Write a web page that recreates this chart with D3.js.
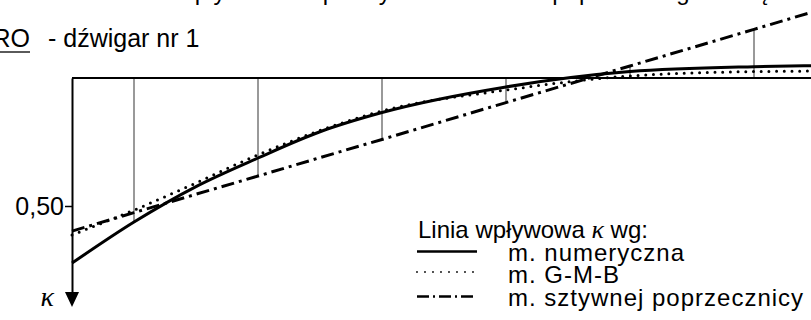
<!DOCTYPE html>
<html>
<head>
<meta charset="utf-8">
<script src="https://cdn.jsdelivr.net/npm/d3@7"></script>
<style>
  body { margin: 0; background: #fff; }
  svg { display: block; font-family: "Liberation Sans", Arial, sans-serif; }
  text { fill: #000; }
</style>
</head>
<body>
<div id="chart-area"></div>
<script>
// positions along the cross-section (girder spacing = 1)
const pos = [0, 0.5, 1, 1.5, 2, 2.5, 3.5, 4.5, 5.5, 6]
// influence line ordinates
const numeryczna = [0.723, 0.5625, 0.424, 0.3125, 0.21, 0.135, 0.035, -0.025, -0.044, -0.048]
const gmb        = [0.613, 0.516, 0.41, 0.30, 0.205, 0.129, 0.047, -0.008, -0.025, -0.027]
const sztywna    = [0.598, 0.526, 0.454, 0.383, 0.311, 0.240, 0.096, -0.047, -0.190, -0.262]
const ordinates = [0.5, 1.5, 2.5, 3.5, 4.5, 5.5]
const yTicks = [0.5]
const legendTitle = "Linia wpływowa "
const legendLabels = ["m. numeryczna", "m. G-M-B", "m. sztywnej poprzecznicy"]
const topLine = "Linie wpływowe współczynnika rozkładu poprzecznego obciążenia"

const width = 811, height = 320

const svg = d3.select("#chart-area").append("svg")
  .attr("width", width)
  .attr("height", height)

const x = d3.scaleLinear().domain([0, 6]).range([72, 816])
const y = d3.scaleLinear().domain([0, 0.5]).range([78, 206])

// cut-off text line at the very top
svg.append("text")
  .attr("x", 120).attr("y", 0)
  .attr("font-size", 24)
  .text(topLine)

// heading
svg.append("text")
  .attr("x", 30).attr("y", 47)
  .attr("text-anchor", "end")
  .attr("font-size", 25)
  .text("RO")
svg.append("line")
  .attr("x1", 0).attr("x2", 30)
  .attr("y1", 52).attr("y2", 52)
  .attr("stroke", "#000").attr("stroke-width", 1.3)
svg.append("text")
  .attr("x", 48).attr("y", 47)
  .attr("font-size", 25)
  .text("- dźwigar nr 1")

// vertical ordinates (to the extreme value)
const series = [numeryczna, gmb, sztywna]
const ordData = ordinates.map(p => {
  const i = pos.indexOf(p)
  const v = series.map(s => s[i])
  return { p: p, v: v.reduce((a, b) => Math.abs(b) > Math.abs(a) ? b : a) }
})
svg.selectAll(".ord").data(ordData).enter().append("line")
  .attr("class", "ord")
  .attr("x1", d => x(d.p)).attr("x2", d => x(d.p))
  .attr("y1", y(0)).attr("y2", d => y(d.v))
  .attr("stroke", "#555").attr("stroke-width", 1.2)

// baseline
svg.append("line")
  .attr("x1", x(0)).attr("x2", width)
  .attr("y1", y(0)).attr("y2", y(0))
  .attr("stroke", "#000").attr("stroke-width", 2)

// y axis pointing down
const yAxisScale = d3.scaleLinear().domain([0, 0.84]).range([y(0), y(0.84)])
const yAxis = svg.append("g")
  .attr("transform", `translate(${x(0)},0)`)
  .call(d3.axisLeft(yAxisScale).tickValues(yTicks).tickSize(7).tickSizeOuter(0)
    .tickFormat(d => d3.format(".2f")(d).replace(".", ",")))
yAxis.select(".domain").attr("stroke-width", 2)
yAxis.selectAll(".tick line").attr("stroke-width", 1.5)
yAxis.selectAll(".tick text")
  .style("font-family", "'Liberation Sans', Arial, sans-serif")
  .attr("font-size", 25).attr("x", -8).attr("dy", "0.35em")
const ay = y(0.84)
svg.append("path")
  .attr("d", `M${x(0) - 7},${ay - 1}L${x(0) + 7},${ay - 1}L${x(0)},${ay + 14}Z`)
  .attr("fill", "#000")
svg.append("text")
  .attr("x", 54).attr("y", 306)
  .attr("text-anchor", "end")
  .style("font-family", "'Liberation Serif', 'Times New Roman', serif")
  .style("font-style", "italic")
  .attr("font-size", 28)
  .text("κ")

// curves
const line = d3.line()
  .x((d, i) => x(pos[i]))
  .y(d => y(d))

svg.append("path").datum(sztywna)
  .attr("d", line.curve(d3.curveLinear))
  .attr("fill", "none").attr("stroke", "#000").attr("stroke-width", 3)
  .attr("stroke-dasharray", "13,5,3,5")
svg.append("path").datum(gmb)
  .attr("d", line.curve(d3.curveMonotoneX))
  .attr("fill", "none").attr("stroke", "#000").attr("stroke-width", 3)
  .attr("stroke-linecap", "round")
  .attr("stroke-dasharray", "0,7.7")
svg.append("path").datum(numeryczna)
  .attr("d", line.curve(d3.curveMonotoneX))
  .attr("fill", "none").attr("stroke", "#000").attr("stroke-width", 3)

// legend
const lg = svg.append("g")
const lt = lg.append("text").attr("x", 418).attr("y", 238).attr("font-size", 24)
lt.append("tspan").text(legendTitle)
lt.append("tspan")
  .style("font-family", "'Liberation Serif', 'Times New Roman', serif")
  .style("font-style", "italic").attr("font-size", 26).text("κ")
lt.append("tspan").text(" wg:")

const rowY = [260.5, 283, 305.5]
const styles = [
  { w: 2.6, dash: null, cap: "butt", off: -9 },
  { w: 1.8, dash: "0,8", cap: "round", off: -11 },
  { w: 2.4, dash: "12,4,2,4", cap: "butt", off: -9 }
]
lg.selectAll(".lab").data(legendLabels).enter().append("text")
  .attr("class", "lab")
  .attr("x", 508).attr("y", (d, i) => rowY[i])
  .attr("font-size", 24)
  .attr("letter-spacing", 1)
  .text(d => d)
lg.selectAll(".sample").data(legendLabels).enter().append("line")
  .attr("class", "sample")
  .attr("x1", 417).attr("x2", 477)
  .attr("y1", (d, i) => rowY[i] + styles[i].off)
  .attr("y2", (d, i) => rowY[i] + styles[i].off)
  .attr("stroke", "#000")
  .attr("stroke-width", (d, i) => styles[i].w)
  .attr("stroke-linecap", (d, i) => styles[i].cap)
  .attr("stroke-dasharray", (d, i) => styles[i].dash)
</script>
</body>
</html>
